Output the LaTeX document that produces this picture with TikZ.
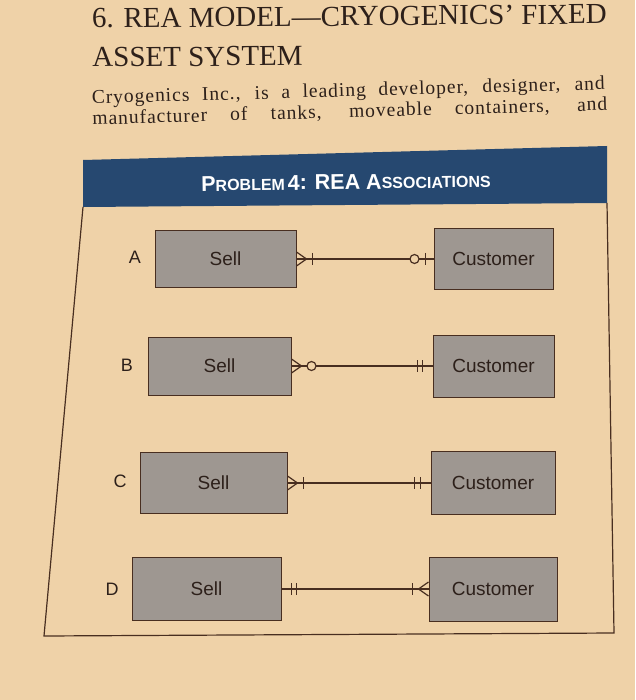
\documentclass[tikz,border=0pt]{standalone}
\usepackage{fontspec}
\setmainfont{Liberation Serif}
\newfontfamily\sansf{Liberation Sans}
\newfontfamily\bodyf[LetterSpace=5]{Liberation Serif}
\usetikzlibrary{calc}
\definecolor{bg}{RGB}{239,210,168}
\definecolor{ink}{RGB}{45,32,26}
\definecolor{lnc}{RGB}{72,46,32}
\definecolor{boxg}{RGB}{158,151,145}
\definecolor{hblue}{RGB}{38,72,112}
\newcommand\hbig[1]{{\fontsize{21.5pt}{21.5pt}\selectfont #1}}
\newcommand\hsml[1]{{\fontsize{16pt}{16pt}\selectfont #1}}
\tikzset{
  head/.style={inner sep=0pt, text=ink, align=left, font=\fontsize{29pt}{39pt}\selectfont},
  body/.style={inner sep=0pt, text=ink, align=left, font=\bodyf\fontsize{19.5pt}{21pt}\selectfont},
  entity/.style={draw=lnc, line width=1pt, fill=boxg, inner sep=0pt, text=ink, font=\sansf\fontsize{19pt}{19pt}\selectfont},
  lbl/.style={inner sep=0pt, text=ink, font=\sansf\fontsize{18pt}{18pt}\selectfont},
  rel/.style={draw=lnc, line width=1.2pt},
  frame/.style={draw=lnc, line width=1.2pt},
  pics/cfoot/.style={code={\draw[rel] (0,-7) -- (10,0) -- (0,7);}},
  pics/tbar/.style={code={\draw[rel] (0,-6) -- (0,6);}}
}
\begin{document}
\begin{tikzpicture}[x=1pt,y=-1pt]
\fill[bg] (0,0) rectangle (635,700);
\useasboundingbox (0,0) rectangle (635,700);
% heading text
\node[head,anchor=west,rotate=0.5] (h1) at (92,38)
  {6. REA MODEL—CRYOGENICS’ FIXED\\ASSET SYSTEM};
\node[body,anchor=west,rotate=1.6] (h3) at (92,109)
  {\makebox[513pt][s]{Cryogenics Inc., is a leading developer, designer, and}\\
   \makebox[515pt][s]{manufacturer of tanks, moveable containers, and}};
% blue title bar and frame
\fill[hblue] (83,160) -- (607,146) -- (607,203) -- (83,207) -- cycle;
\node[inner sep=0pt,text=white,font=\sansf\bfseries,rotate=0.8] (ttl) at (346,182)
  {\hbig{P}\hsml{ROBLEM} \hbig{4: REA A}\hsml{SSOCIATIONS}};
\draw[frame] (83,207) -- (44,636) -- (614,633) -- (607,203);
% row A
\node[lbl] (la) at (135,257) {A};
\node[entity,minimum width=141pt,minimum height=56pt] (sA) at (225.5,259) {Sell};
\node[entity,minimum width=119pt,minimum height=60pt] (cA) at (493.5,259) {Customer};
\draw[rel] (sA.east) -- (sA.east -| cA.west);
\pic at (sA.east) {cfoot};
\pic[xshift=16pt] at (sA.east) {tbar};
\pic[xshift=-8pt] at (cA.west) {tbar};
\draw[rel,fill=bg] ($(cA.west)+(-19,0)$) circle[radius=4.5];
% row B
\node[lbl] (lb) at (127,365) {B};
\node[entity,minimum width=143pt,minimum height=58pt] (sB) at (219.5,366) {Sell};
\node[entity,minimum width=121pt,minimum height=62pt] (cB) at (493.5,366) {Customer};
\draw[rel] (sB.east) -- (sB.east -| cB.west);
\pic at (sB.east) {cfoot};
\draw[rel,fill=bg] ($(sB.east)+(20,0)$) circle[radius=4.5];
\pic[xshift=-15pt] at (cB.west) {tbar};
\pic[xshift=-10pt] at (cB.west) {tbar};
% row C
\node[lbl] (lc) at (120,481) {C};
\node[entity,minimum width=147pt,minimum height=61pt] (sC) at (213.5,483) {Sell};
\node[entity,minimum width=124pt,minimum height=63pt] (cC) at (493,483) {Customer};
\draw[rel] (sC.east) -- (sC.east -| cC.west);
\pic at (sC.east) {cfoot};
\pic[xshift=16pt] at (sC.east) {tbar};
\pic[xshift=-16pt] at (cC.west) {tbar};
\pic[xshift=-10pt] at (cC.west) {tbar};
% row D
\node[lbl] (ld) at (112,589) {D};
\node[entity,minimum width=149pt,minimum height=63pt] (sD) at (206.5,589) {Sell};
\node[entity,minimum width=128pt,minimum height=64pt] (cD) at (493,589) {Customer};
\draw[rel] (sD.east) -- (sD.east -| cD.west);
\pic[xshift=10pt] at (sD.east) {tbar};
\pic[xshift=15pt] at (sD.east) {tbar};
\pic[xscale=-1] at (cD.west) {cfoot};
\pic[xshift=-16pt] at (cD.west) {tbar};
\end{tikzpicture}
\end{document}
